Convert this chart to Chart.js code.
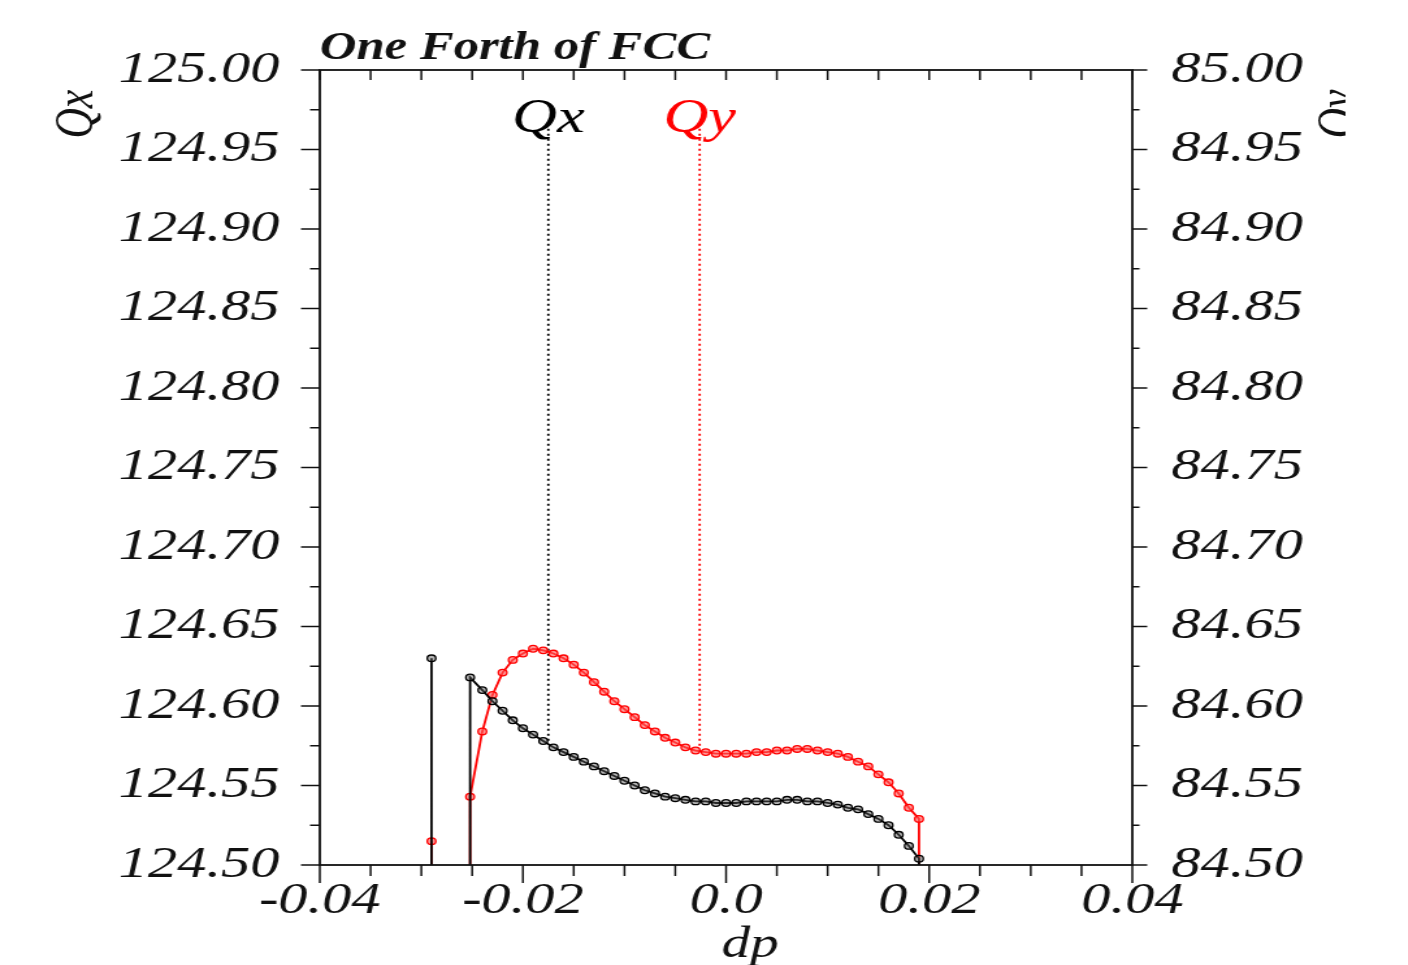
<!DOCTYPE html>
<html>
<head>
<meta charset="utf-8">
<script src="https://cdn.jsdelivr.net/npm/chart.js@4.4.1/dist/chart.umd.min.js"></script>
<style>
html, body { margin: 0; padding: 0; background: #fff; overflow: hidden; }
/* the source figure is stretched sideways, so draw narrow and widen it */
#wrap { width: 1083px; height: 965px; transform: scale(1.3, 1); transform-origin: 0 0; }
</style>
</head>
<body>
<div id="wrap"><canvas id="tuneChart" width="1083" height="965"></canvas></div>
<script>
// momentum deviation; repeated values mark where the tune is lost (drops off the axis)
const dp = [-0.029, -0.029, -0.0252, -0.0252,
  -0.024, -0.023, -0.022, -0.021, -0.020, -0.019, -0.018, -0.017, -0.016, -0.015,
  -0.014, -0.013, -0.012, -0.011, -0.010, -0.009, -0.008, -0.007, -0.006, -0.005,
  -0.004, -0.003, -0.002, -0.001, 0.000, 0.001, 0.002, 0.003, 0.004, 0.005,
  0.006, 0.007, 0.008, 0.009, 0.010, 0.011, 0.012, 0.013, 0.014, 0.015,
  0.016, 0.017, 0.018, 0.019, 0.019];

const qx = [124.630, 124.40, 124.40, 124.618,
  124.610, 124.603, 124.597, 124.591, 124.586, 124.582, 124.578, 124.574, 124.571, 124.568,
  124.565, 124.562, 124.559, 124.556, 124.553, 124.550, 124.547, 124.545, 124.543, 124.542,
  124.541, 124.540, 124.540, 124.539, 124.539, 124.539, 124.540, 124.540, 124.540, 124.540,
  124.541, 124.541, 124.540, 124.540, 124.539, 124.538, 124.536, 124.535, 124.532, 124.529,
  124.525, 124.519, 124.512, 124.504, 124.40];

const qy = [84.515, 84.40, 84.40, 84.543,
  84.584, 84.607, 84.621, 84.629, 84.633, 84.636, 84.635, 84.633, 84.630, 84.626,
  84.621, 84.615, 84.609, 84.603, 84.598, 84.593, 84.588, 84.584, 84.580, 84.577,
  84.574, 84.572, 84.571, 84.570, 84.570, 84.570, 84.570, 84.571, 84.571, 84.572,
  84.572, 84.573, 84.573, 84.572, 84.571, 84.570, 84.568, 84.565, 84.562, 84.557,
  84.552, 84.545, 84.536, 84.529, 84.40];

// dotted markers under the Qx / Qy labels
const markerDp = [-0.0175, -0.0026];
const markerTop = [124.963, 84.963];
const markerEnd = [124.578, 84.573];

const xMin = -0.04, xMax = 0.04, xStep = 0.005;
const qxMin = 124.50, qxMax = 125.00;
const qyMin = 84.50, qyMax = 85.00;
const yStep = 0.025;

const serif = '"Liberation Serif", "Times New Roman", serif';

function xLabel(v) {
    const k = Math.round((v - xMin) / xStep);
    if (k % 4 !== 0) return '';
    return Math.abs(v) < 1e-9 ? '0.0' : v.toFixed(2);
}
function yLabel(min) {
    return function(v) {
        const k = Math.round((v - min) / yStep);
        return k % 2 === 0 ? v.toFixed(2) : '';
    };
}

// box, tick marks and free text
const decorPlugin = {
    id: 'decor',
    afterDraw(chart) {
        const ctx = chart.ctx;
        const a = chart.chartArea;
        const { x, y, y2 } = chart.scales;
        const line = (x1, y1, x2, y2_) => { ctx.beginPath(); ctx.moveTo(x1, y1); ctx.lineTo(x2, y2_); ctx.stroke(); };

        ctx.save();
        ctx.strokeStyle = '#111';
        ctx.lineWidth = 1.8;
        ctx.strokeRect(a.left, a.top, a.right - a.left, a.bottom - a.top);

        ctx.lineWidth = 1.5;
        x.ticks.forEach(t => {
            const px = x.getPixelForValue(t.value);
            const major = t.label !== '';
            line(px, a.bottom, px, a.bottom + (major ? 18 : 11));
            line(px, a.top, px, a.top + 10);
        });
        y.ticks.forEach(t => {
            const py = y.getPixelForValue(t.value);
            line(a.left - (t.label !== '' ? 14.5 : 7.5), py, a.left, py);
        });
        y2.ticks.forEach(t => {
            const py = y2.getPixelForValue(t.value);
            line(a.right, py, a.right + (t.label !== '' ? 11.5 : 5.5), py);
        });

        // title
        ctx.fillStyle = '#111';
        ctx.textAlign = 'left';
        ctx.textBaseline = 'alphabetic';
        ctx.font = 'italic bold 39px ' + serif;
        ctx.fillText('One Forth of FCC', a.left, 59);

        // labels over the dotted markers
        ctx.textAlign = 'center';
        ctx.font = 'italic 48px ' + serif;
        ctx.fillStyle = '#000';
        ctx.fillText('Qx', x.getPixelForValue(markerDp[0]), y.getPixelForValue(markerTop[0]) + 3);
        ctx.fillStyle = '#ff0000';
        ctx.fillText('Qy', x.getPixelForValue(markerDp[1]), y2.getPixelForValue(markerTop[1]) + 3);

        // axis titles
        ctx.fillStyle = '#111';
        ctx.font = 'italic 44px ' + serif;
        ctx.fillText('dp', 577, 957);

        ctx.font = 'italic 42px ' + serif;
        ctx.textBaseline = 'middle';
        ctx.save();
        ctx.translate(60, 114);
        ctx.rotate(-Math.PI / 2);
        ctx.fillText('Qx', 0, 0);
        ctx.restore();

        // right title is cut off by the figure edge
        ctx.save();
        ctx.beginPath();
        ctx.rect(0, 0, 1035, 965);
        ctx.clip();
        ctx.translate(1031, 114);
        ctx.rotate(-Math.PI / 2);
        ctx.fillText('Qy', 0, 0);
        ctx.restore();

        ctx.restore();
    }
};

const ctx = document.getElementById('tuneChart');

new Chart(ctx, {
    type: 'line',
    data: {
        datasets: [{
            label: 'Qx',
            data: dp.map((d, i) => ({ x: d, y: qx[i] })),
            yAxisID: 'y',
            borderColor: '#000',
            borderWidth: 1.8,
            pointRadius: 3.3,
            pointBorderWidth: 1.3,
            pointBorderColor: '#000',
            pointBackgroundColor: 'rgba(90,90,90,0.45)',
            tension: 0
        }, {
            label: 'Qy',
            data: dp.map((d, i) => ({ x: d, y: qy[i] })),
            yAxisID: 'y2',
            borderColor: '#ff0000',
            borderWidth: 1.8,
            pointRadius: 3.3,
            pointBorderWidth: 1.3,
            pointBorderColor: '#ff0000',
            pointBackgroundColor: 'rgba(255,90,90,0.6)',
            tension: 0
        }, {
            label: 'Qx marker',
            data: [{ x: markerDp[0], y: markerTop[0] }, { x: markerDp[0], y: markerEnd[0] }],
            yAxisID: 'y',
            borderColor: '#000',
            borderWidth: 1.8,
            borderDash: [2, 3],
            pointRadius: 0
        }, {
            label: 'Qy marker',
            data: [{ x: markerDp[1], y: markerTop[1] }, { x: markerDp[1], y: markerEnd[1] }],
            yAxisID: 'y2',
            borderColor: '#ff0000',
            borderWidth: 1.8,
            borderDash: [2, 3],
            pointRadius: 0
        }]
    },
    options: {
        responsive: false,
        animation: false,
        events: [],
        layout: {
            padding: { top: 70, left: 0, right: 0, bottom: 0 }
        },
        plugins: {
            legend: { display: false },
            tooltip: { enabled: false }
        },
        scales: {
            x: {
                type: 'linear',
                min: xMin,
                max: xMax,
                afterFit: (s) => { s.height = 100; },
                grid: { display: false, drawTicks: false },
                border: { display: false },
                ticks: {
                    stepSize: xStep,
                    autoSkip: false,
                    maxRotation: 0,
                    padding: 9,
                    color: '#111',
                    font: { family: serif, style: 'italic', size: 45 },
                    callback: xLabel
                }
            },
            y: {
                position: 'left',
                min: qxMin,
                max: qxMax,
                afterFit: (s) => { s.width = 246; },
                grid: { display: false, drawTicks: false },
                border: { display: false },
                ticks: {
                    stepSize: yStep,
                    autoSkip: false,
                    padding: 31,
                    color: '#111',
                    font: { family: serif, style: 'italic', size: 45 },
                    callback: yLabel(qxMin)
                }
            },
            y2: {
                position: 'right',
                min: qyMin,
                max: qyMax,
                afterFit: (s) => { s.width = 212; },
                grid: { display: false, drawTicks: false },
                border: { display: false },
                ticks: {
                    stepSize: yStep,
                    autoSkip: false,
                    padding: 30,
                    color: '#111',
                    font: { family: serif, style: 'italic', size: 45 },
                    callback: yLabel(qyMin)
                }
            }
        }
    },
    plugins: [decorPlugin]
});
</script>
</body>
</html>
